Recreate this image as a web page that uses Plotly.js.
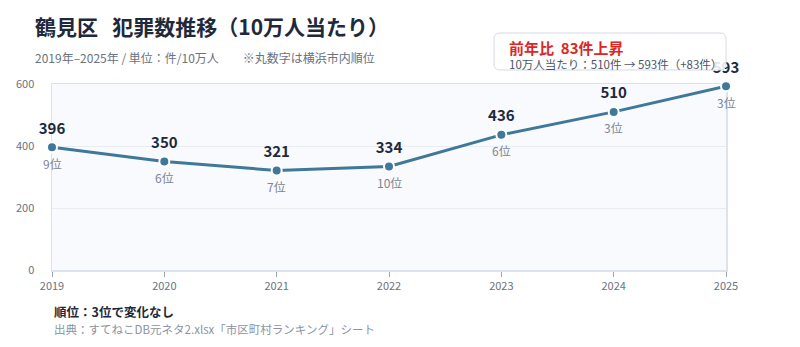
<!DOCTYPE html>
<html>
<head>
<meta charset="utf-8">
<script src="https://cdn.plot.ly/plotly-3.0.1.min.js"></script>
<style>html,body{margin:0;padding:0;background:#fff;}#chart{width:800px;height:347px;}</style>
</head>
<body>
<div id="chart"></div>
<script>
const years = [2019, 2020, 2021, 2022, 2023, 2024, 2025];
const values = [396, 350, 321, 334, 436, 510, 593];
const ranks = ["9位", "6位", "7位", "10位", "6位", "3位", "3位"];
const yTicks = [0, 200, 400, 600];

const FONT = '"Noto Sans CJK JP", "Noto Sans", sans-serif';
const lineColor = '#3f7898';

const rankAnn = years.map((yr, i) => ({
  x: yr, y: values[i], xref: 'x', yref: 'y', text: ranks[i],
  showarrow: false, yshift: -16,
  font: {family: FONT, size: 12, color: '#7c8594'}
}));

const other = [
  {xref: 'paper', yref: 'paper', x: -0.028, y: 1.0, text: '<b>鶴見区&nbsp;&nbsp;&nbsp;犯罪数推移（10万人当たり）</b>',
   xanchor: 'left', yanchor: 'middle', showarrow: false,
   yshift: 58, font: {family: FONT, size: 21, color: '#1e293b'}},
  {xref: 'paper', yref: 'paper', x: -0.028, y: 1.0, text: '2019年–2025年&nbsp;/&nbsp;単位：件/10万人\u3000\u3000※丸数字は横浜市内順位',
   xanchor: 'left', yanchor: 'middle', showarrow: false,
   yshift: 27, font: {family: FONT, size: 12, color: '#6b7280'}},
  {xref: 'paper', yref: 'paper', x: 0.0, y: 0, text: '<b>順位：3位で変化なし</b>',
   xanchor: 'left', yanchor: 'middle', showarrow: false,
   yshift: -41, font: {family: FONT, size: 12.5, color: '#1e293b'}},
  {xref: 'paper', yref: 'paper', x: 0.0, y: 0, text: '出典：すてねこDB元ネタ2.xlsx「市区町村ランキング」シート',
   xanchor: 'left', yanchor: 'middle', showarrow: false,
   yshift: -59, font: {family: FONT, size: 11.5, color: '#8b93a1'}},
  {xref: 'paper', yref: 'paper', x: (507-52)/674, y: 0, text: '<b>前年比&nbsp;&nbsp;83件上昇</b>',
   xanchor: 'left', yanchor: 'middle', showarrow: false,
   yshift: 270-47, font: {family: FONT, size: 15, color: '#dc2626'}},
  {xref: 'paper', yref: 'paper', x: (507-52)/674, y: 0, text: '10万人当たり：510件 → 593件（+83件）',
   xanchor: 'left', yanchor: 'middle', showarrow: false,
   yshift: 270-64, font: {family: FONT, size: 11.5, color: '#4b5563'}}
];

// box in paper coords: x 494..726, y 33..70 px
const px = v => (v - 52) / 674;
const py = v => (270 - v) / 186;
const x0 = px(494), x1 = px(726), y0 = py(70), y1 = py(33);
const rx = 6/674, ry = 6/186;
const boxPath = `M ${x0+rx},${y1} L ${x1-rx},${y1} Q ${x1},${y1} ${x1},${y1-ry} L ${x1},${y0+ry} Q ${x1},${y0} ${x1-rx},${y0} L ${x0+rx},${y0} Q ${x0},${y0} ${x0},${y0+ry} L ${x0},${y1-ry} Q ${x0},${y1} ${x0+rx},${y1} Z`;

const trace = {
  x: years, y: values, type: 'scatter', mode: 'lines+markers',
  line: {color: lineColor, width: 3},
  marker: {color: lineColor, size: 10, line: {color: '#ffffff', width: 2}},
  cliponaxis: false, hoverinfo: 'skip'
};
const labelTrace = {
  x: years, y: values, type: 'scatter', mode: 'markers+text',
  text: values.map(String), textposition: 'top center',
  textfont: {family: FONT, size: 15, color: '#1e293b', weight: 700},
  marker: {size: 14, color: 'rgba(0,0,0,0)'},
  cliponaxis: false, hoverinfo: 'skip'
};

const layout = {
  width: 800, height: 347,
  margin: {l: 52, r: 74, t: 84, b: 77},
  paper_bgcolor: '#ffffff', plot_bgcolor: '#f8fafd',
  showlegend: false,
  xaxis: {
    range: [2019, 2025], tickvals: years, ticktext: years.map(String),
    showgrid: false, zeroline: false, layer: 'below traces',
    showline: true, linecolor: '#dde3ec', linewidth: 1.5, mirror: true,
    ticks: 'outside', ticklen: 5, tickcolor: '#9aa3b0', tickwidth: 1,
    tickfont: {family: FONT, size: 11, color: '#6b7280'}
  },
  yaxis: {
    range: [0, 600], tickvals: yTicks, ticktext: yTicks.map(String),
    showgrid: true, gridcolor: '#e9edf3', gridwidth: 1, zeroline: false, layer: 'below traces',
    showline: true, linecolor: '#dde3ec', linewidth: 1.5, mirror: true,
    ticks: '', ticklabelstandoff: 14,
    tickfont: {family: FONT, size: 11, color: '#6b7280'}
  },
  shapes: [{type: 'path', xref: 'paper', yref: 'paper', path: boxPath,
    fillcolor: 'rgba(255,255,255,0.88)', line: {color: '#d3dae5', width: 1}, layer: 'above'}],
  annotations: rankAnn.concat(other)
};

Plotly.newPlot('chart', [trace, labelTrace], layout, {staticPlot: true, displayModeBar: false});
</script>
</body>
</html>
